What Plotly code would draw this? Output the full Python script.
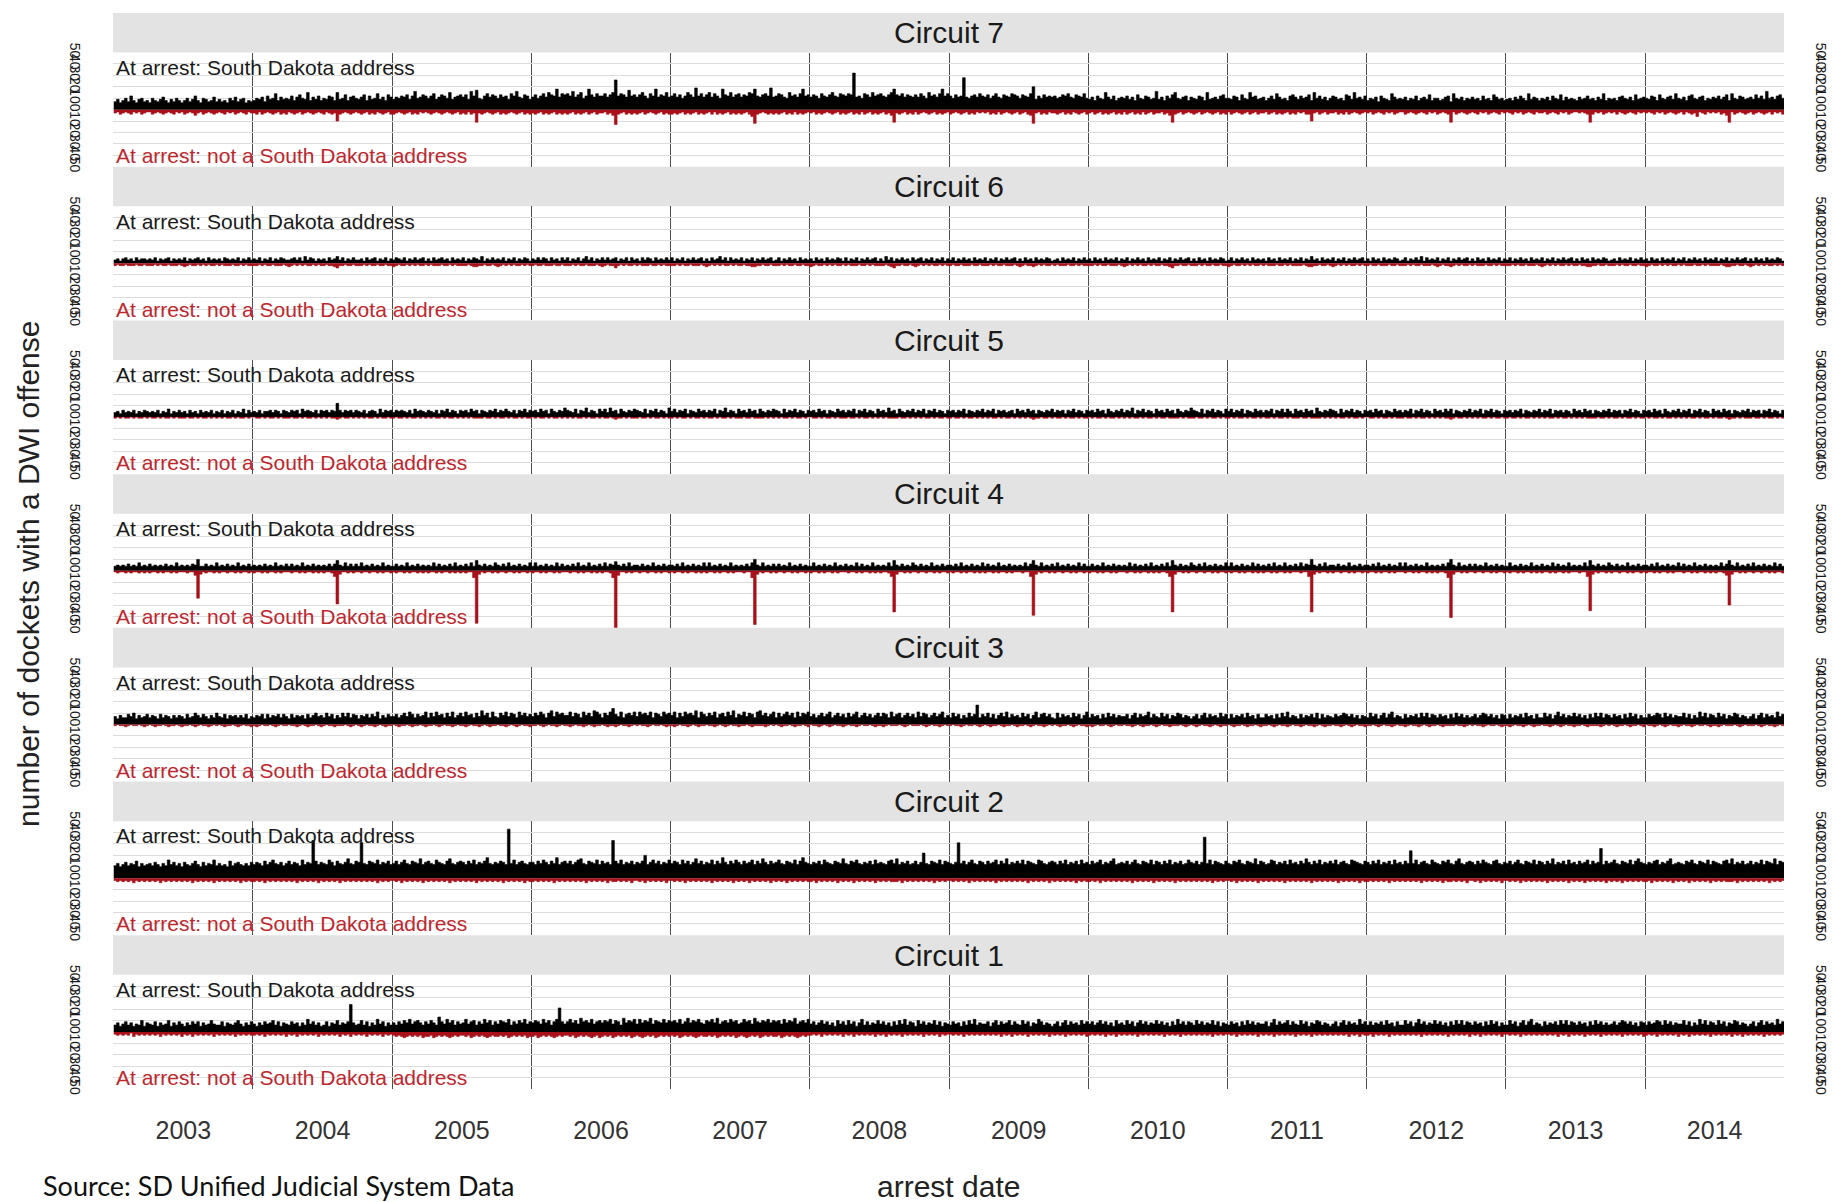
import datetime as dt
import plotly.graph_objects as go

# ---------------- data (weekly steps, 52 per year) ----------------
# each string = one year, 4 quarter-groups of 13 weekly values; chars decode via ALPHA index
ALPHA = "0123456789abcdefghijklmnopqrstuvwxyzABCDEFGHIJKLMNOPQRSTUVWXYZ"
YEARS = list(range(2003, 2015))
CIRCUITS = ["Circuit 7", "Circuit 6", "Circuit 5", "Circuit 4", "Circuit 3", "Circuit 2", "Circuit 1"]
Y_TICKS = [-50, -40, -30, -20, -10, 0, 10, 20, 30, 40, 50]
Y_TICK_TEXT = ["50", "40", "30", "20", "10", "0", "10", "20", "30", "40", "50"]
LABEL_SD = "At arrest: South Dakota address"
LABEL_OUT = "At arrest: not a South Dakota address"
SOURCE = "Source: SD Unified Judicial System Data"
X_TITLE = "arrest date"
Y_TITLE = "number of dockets with a DWI offense"

C7_SD = [
    "7968a7c869a78 6a879b8697a86 8a79c86a978b7 9786a8b79a687",
    "8a9b7c9ae8b9a 9c8bda9f8b9c8 a9cb8f9ad8bca 9bd8c9ae9b8db",
    "9bacbd9cgabdc ace9bdcaf9bcd bd9gcha9cebdc adbc9ecgbadc9",
    "bdacebfdcibed ecgbdfacidbec cebdfqcedbhcd bdfcaecibdcfb",
    "cebdacfdbjceb dfbecaidcfbde bdcfeicbdecjb cedbafcdbeicd",
    "bdcaecbdfcbed cedwbcaedbfcd ecbdfidcebdcb dbecafcdbeice",
    "cadbcsbacdbec bdacebadcbedc adcbek9cadbcb cabdcebadcbea",
    "9b8ca9fb9c8ab ac9b8da9cb9ag 9b8cadfa9bc8b a9cb8f9ab9cda",
    "a9cb8da9fbc9a b8ac9eb9a8cdb 9cabd8fac9b8a cb9a8dc9fab9c",
    "8a9b7ca98eb9a 9b8a9c8ab9d8a a89bc7ea9b8a9 b9a8c9a8db9a8",
    "9a8b9ca8e9ba8 a9b8ca9d8b9a9 8b9ac9a8b9e8a 9a8bca9b8d9ab",
    "a9cb8da9bc9ea 9b8cda9bc8a9b ac9bd8ea9cb9a b9dac9gab9cda",
]
C7_OUT = [
    "3243234232432 2432343234232 4323532432343 2342324323423",
    "3424323432434 2343243234323 42343a4323432 3432434234324",
    "4323432434232 3432343234324 34243b3432343 2434323432434",
    "3432434324343 4324343243243 32435d4324343 4324323432434",
    "4343243432434 3242434324343 43246c4323434 3432434243432",
    "3243432343243 4324342432434 32435b3432434 2432343243432",
    "4323432434232 3243424323432 43245c3243423 3432434234324",
    "3243243432434 2432434243243 32435b4324323 4324323432434",
    "2432343243243 3243243432434 23244a3243243 3243424323432",
    "3243234232432 2432343234232 43234b2432343 2342324323423",
    "2342324323423 3243234232432 23234b4232432 3242343234232",
    "3234232432343 2423436234232 32435b2432343 2432343242324",
]
C6_SD = [
    "3424534253443 4352434524343 5243453425343 4254343524353",
    "4352435243543 3453526354243 4253463524353 3425345243524",
    "3543524353452 4253453425343 5243543624353 4352435243542",
    "4353542534253 5243524635243 5353452435253 4253542534353",
    "5243524353452 4253463525343 5243524353452 3524353425343",
    "4253425343542 5243524353452 4263524353425 3452435243524",
    "3524353425343 5243524353452 4253425343542 3425343524353",
    "4253425343524 3524353425343 5243524353452 4253425343542",
    "3524353425343 4253425343524 3524363425343 5243524353452",
    "4253425343542 3524353625343 5243524353452 4253425343524",
    "3524353425343 5243524353452 4253425343542 3425343524353",
    "4253425343524 3524353425343 5243524353452 4253425343542",
]
C6_OUT = [
    "2122122212212 2212122122212 3212212121221 2122212212122",
    "2212122122212 3212121221212 2122342212212 2212122122122",
    "3212212121221 2122212212122 2212332212212 3212121221212",
    "2122122212212 2212122122212 3212242121221 2122212212122",
    "2212122122212 3212121221212 2122332212212 2212122122122",
    "3212212121221 2122212212122 2212342212212 3212121221212",
    "2122122212212 2212122122212 3212232121221 2122212212122",
    "2212122122212 3212121221212 2122342212212 2212122122122",
    "3212212121221 2122212212122 2212332212212 3212121221212",
    "2122122212212 2212122122212 3212232121221 2122212212122",
    "2212122122212 3212121221212 2122332212212 2212122122122",
    "3212212121221 2122212212122 2212332212212 3212121221212",
]
C5_SD = [
    "4536454635465 4546354735464 5364536454635 4635463547364",
    "5463556465365 4656375654636 56465c6465646 5463565374656",
    "4656546375654 6546365746536 5647563654657 4657546365746",
    "5647563754658 6547365846537 5748563754657 6547365746538",
    "5746573654756 4657365846537 5647563754657 6537465746536",
    "5647563654756 4657365746537 5648563754657 4657365746536",
    "5646573654657 4657365645637 5647563654657 4656365746536",
    "5647563754657 4658365746537 5647563754658 6547365746537",
    "5746573654756 4657365747537 5647563854657 6537465746536",
    "5647563654756 4657365746537 5647573654657 4657365746536",
    "5646573654657 4657365646537 5647563654657 4656365746536",
    "5647563754657 4657365746537 5647563654657 4656365746536",
]
C5_OUT = [
    "1010110101101 0110101101011 1011010110101 0101101011010",
    "0110101101011 1011010110101 0101121011010 1010110101101",
    "1011010110101 0101101011010 1010111101101 0110101101011",
    "0101101011010 1010110101101 0110121101011 1011010110101",
    "1010110101101 0110101101011 1011011110101 0101101011010",
    "0110101101011 1011010110101 0101111011010 1010110101101",
    "1011010110101 0101101011010 1010121101101 0110101101011",
    "0101101011010 1010110101101 0110111101011 1011010110101",
    "1010110101101 0110101101011 1011011110101 0101101011010",
    "0110101101011 1011010110101 0101121011010 1010110101101",
    "1011010110101 0101101011010 1010111101101 0110101101011",
    "0101101011010 1010110101101 0110121101011 1011010110101",
]
C4_SD = [
    "4545464547454 6454546454745 45465a4464547 4546454745464",
    "5454645474546 4645474546454 5464695474646 4745464547454",
    "4645474546454 5474645464745 4647495464547 5464745464547",
    "4745464547464 5464745474546 4746585464745 5464547454645",
    "5464745464547 4745464547454 54647a5474546 4645474546454",
    "4745464547454 6454746454745 4547495464547 5464547454645",
    "5464745464547 4645474546454 5474695474546 4745464547464",
    "4645474546454 5474645464745 4647495464547 5464745464547",
    "4745464547464 5464745474546 47465a5464745 5464547454645",
    "5464745464547 4745464547454 54647a5474546 4645474546454",
    "4745464547454 6454746454745 4547495464547 5464547454645",
    "5464745464547 4645474546454 5474695474546 4745464547464",
]
C4_OUT = [
    "1211212112121 2112121121211 12114o3121121 2112112121121",
    "2112121121211 1211212112121 21125t3112121 1211211212112",
    "1211212112121 2112121121212 12116K3121121 2112112121121",
    "2112121121211 1211212112121 21126O4112121 1211211212112",
    "1211212112121 2112121121211 12116L3121121 2112112121121",
    "2112121121211 1211212112121 21125A3112121 1211211212112",
    "1211212112121 2112121121211 12115D3121121 2112112121121",
    "2112121121211 1211212112121 21125A3112121 1211211212112",
    "1211212112121 2112121121211 12115A3121121 2112112121121",
    "2112121121211 1211212112121 21126F3112121 1211211212112",
    "1211212112121 2112121121211 12115z3121121 2112112121121",
    "2112121121211 1211212112121 21124u3112121 1211211212112",
]
C3_SD = [
    "7586697a58679 6875968758687 5967a8697586a 7695878686957",
    "6879596879697 5968785968a78 6a79586a7a698 5879697b58697",
    "7968a7b96978b 6a7b896a7b68a 7b896a7c8a6b7 6a8b7a96b8a79",
    "7a8b96ac7b9a8 8b7a96b8a7cb9 6a8be97b69a8b 7b9a8b6a97b9a",
    "8b6a7b9a8c6b9 7a8b69a7b8c69 8b7a96bc8a79b 6a79b8a6b7a9b",
    "7968a79b68a79 6a79b68a7968a 7a96b79a68a79 6b7a968a79b68",
    "6a79586a79h69 7a6958a7b6978 6a7958b69a796 5a69786a7958b",
    "6978596a79687 7958a6978b697 6a79587a96875 7958a69786a79",
    "5968796a78596 6978596a7b687 5968796a59687 6978a97968587",
    "6a7958a69b687 5968796a7a698 6978596a79686 7968a97968598",
    "5968796a78596 6a7958b79687a 7968596a7a698 6978596a79586",
    "6978a96a79687 7a69586b7a698 6a79587a96875 7958a69786b79",
]
C3_OUT = [
    "1011210110121 0121101211012 1101210112101 0121101210112",
    "1210110121011 0112101211012 1011211101210 1210112101211",
    "0121101211012 1101210112101 1210112101211 0112101210112",
    "1101210112101 1210112101211 0121121011210 1011210110121",
    "1210112101211 0112101210112 1101211112101 0121101211012",
    "0112101210112 1011210110121 1210111012101 1101210112101",
    "1011210110121 0121101211012 1101210112101 0121101210112",
    "1210110121011 0112101211012 1011211101210 1210112101211",
    "0121101211012 1101210112101 1210112101211 0112101210112",
    "1101210112101 1210112101211 0121111011210 1011210110121",
    "1210112101211 0112101210112 1101211112101 0121101211012",
    "0112101210112 1011210110121 1210111012101 1101210112101",
]
C2_SD = [
    "bdacebdcfadbc dbecadbgcebda ecbdfcaebdcgb dbcafbdecbdbe",
    "cedbfcegdcebd fcedbgcedxfce dcgebfdcehdcf evdcfedgcedfc",
    "dfcegdcfedhce fdcgedcfhdcef ecfdgcedfidce dfecHdgcefdce",
    "ecfdgecfdicef dfceghdcfedgc fdecxfdgcedfc edfkcegdfcedg",
    "dfecgdfcehdfc edgcfdiecfdge cfdegcfdhecfd egdcfedgcfied",
    "cedfcgedcfedh dcfegdcedfcgd edcfgdhcedfcd fcemdcfedgcfe",
    "dcevdfcegdcfe cfdegcfdhcedf dgcfedcgfdcef ecfdgcedfcgde",
    "cfdegcedfhcde dfcegdcfedgcf ecfdgcedfcdge dfceAdgcfedcf",
    "dcfegdcfedhcf ecdgfcedfcgde cfdhecfdgcedf dgcefdcgfedcf",
    "ecfdgcedfcgde cfdodgcefdcge dcfegdcfhdcef ecfdgedcfgdce",
    "dfcegdcfedgcf ecfdhcedfcgde cfdegcfdeqcfd egdcfedgcfhed",
    "cedfgcedfhcde dcfegdcfedgcf edcfgdhcedfcd fcedgcfedhcfe",
]
C2_OUT = [
    "2323232423232 3232423232323 2324232323242 3232323242323",
    "3232423232323 2324232323242 3232324232323 2323232423232",
    "2324232323242 3232323242323 2323242323232 3242323232423",
    "3232323242323 2323232423232 3242332323242 2324232323242",
    "2323242323232 3242323232423 2324232323242 3232423232323",
    "3242323232423 2324232323242 3232333242323 2323232423232",
    "2323232423232 3232423232323 2324232323242 3232323242323",
    "3232423232323 2324232323242 3232324232323 2323232423232",
    "2324232323242 3232323242323 2323242323232 3242323232423",
    "3232323242323 2323232423232 3242332323242 2324232323242",
    "2323242323232 3242323232423 2324232323242 3232423232323",
    "3242323232423 2324232323242 3232333242323 2323232423232",
]
C1_SD = [
    "6857968576a58 7695867a58697 5869795867a76 6958768a75869",
    "7586978a69587 6978586b79685 69587a6879o86 7a69586b79586",
    "8697a8b79a869 7a86d97b8a697 8b79a697b8a69 7a98b697a8b79",
    "8a97b8a69bl97 9b8a7c9a8b79a 8a9b7a96c8a9b 7b8a9c7a98b8a",
    "9a8b79c8a9b87 a9b8c79a8b9a7 8b9a7c98a9b8a 9a7b8a9c79a8b",
    "7968a79685a79 6a7958b69687a 7968596a7b698 5a79687a69587",
    "6978596a7b687 7958a6978a697 6a79587b96875 7958a69786a79",
    "7968a79685a78 6a7958a79687a 7968596b79698 6a79687a69587",
    "6978596a79687 7958b6978a697 6a79587a96875 7958a69786b79",
    "6968796a78596 6a7958b79687a 7968596a7a698 6978596a79586",
    "6a7958a69b687 5968796a7a698 6978596a79686 7968a97968598",
    "6978a96a79687 7a69586b7a698 6a79587a96875 7958a69786b79",
]
C1_OUT = [
    "2323231423232 3232423232324 2324232323242 3232324232323",
    "3232423232324 2324232323242 3232324232423 2324232324232",
    "3434543434354 4354343454343 3435434345434 4343543434354",
    "4354343454343 3435434345435 4343543434354 3454343543434",
    "3435434345434 4343543434354 3454343543434 4354343454343",
    "3232423232324 2324232323242 3242323242323 2324232324232",
    "2323242323232 3232324232423 2324232323242 3232423232324",
    "3232324232423 2323242323232 3242323242323 2323232423232",
    "2324232323242 3232423232324 2323242323232 3232324232423",
    "3242323242323 2323232423232 3232423232324 2324232323242",
    "2323242323232 3232324232423 2324232324232 3232423232324",
    "3232423232324 2324232323242 3232324232423 2323242323232",
]

SD_SERIES = [C7_SD, C6_SD, C5_SD, C4_SD, C3_SD, C2_SD, C1_SD]
OUT_SERIES = [C7_OUT, C6_OUT, C5_OUT, C4_OUT, C3_OUT, C2_OUT, C1_OUT]

# ---------------- styling ----------------
FONT = "Liberation Sans, Arial, Helvetica, sans-serif"
BLACK = "#000000"
RED = "#a8101a"
RED_TEXT = "#c0262d"
STRIP = "#e3e3e3"
HGRID = "#dcdcdc"
VGRID = "#4d4d4d"
PANEL_FRAC = 114.5 / 154.2
X_RANGE = ["2002-12-30", "2014-12-31 12:00"]
M_TOP, M_BOTTOM = 3, 113
PLOT_H = 1202 - M_TOP - M_BOTTOM


def decode(year_strings):
    xs, ys = [], []
    for year, s in zip(YEARS, year_strings):
        s = s.replace(" ", "")
        start = dt.datetime(year, 1, 1)
        ndays = (dt.datetime(year + 1, 1, 1) - start).days
        for k, ch in enumerate(s):
            xs.append(start + dt.timedelta(days=ndays * k / len(s)))
            ys.append(ALPHA.index(ch))
    xs.append(dt.datetime(YEARS[-1] + 1, 1, 1))
    ys.append(ys[-1])
    return xs, ys


def py(pixel_y):
    """paper y for a pixel row of the page"""
    return (1202 - M_BOTTOM - pixel_y) / PLOT_H


fig = go.Figure()
layout = dict(
    width=1832, height=1202, autosize=False,
    margin=dict(l=113, r=47, t=M_TOP, b=M_BOTTOM, pad=0),
    paper_bgcolor="white", plot_bgcolor="white",
    showlegend=False, font=dict(family=FONT, color="#222222"),
)
shapes, annotations = [], []

for i, (name, sd, out) in enumerate(zip(CIRCUITS, SD_SERIES, OUT_SERIES)):
    sfx = "" if i == 0 else str(i + 1)
    xa, ya = "x" + sfx, "y" + sfx
    facet_bottom = 1 - (i + 1) / 7
    facet_top = 1 - i / 7
    panel_top = facet_bottom + PANEL_FRAC / 7

    x1, y1 = decode(sd)
    fig.add_trace(go.Scatter(
        x=x1, y=y1, xaxis=xa, yaxis=ya, mode="lines",
        line=dict(color=BLACK, width=0.6, shape="hv"),
        fill="tozeroy", fillcolor=BLACK, hoverinfo="skip"))
    x2, y2 = decode(out)
    fig.add_trace(go.Scatter(
        x=x2, y=[-v for v in y2], xaxis=xa, yaxis=ya, mode="lines",
        line=dict(color=RED, width=0.6, shape="hv"),
        fill="tozeroy", fillcolor=RED, hoverinfo="skip"))
    # invisible trace for the right-hand mirrored axis
    ra = "y" + str(8 + i)
    fig.add_trace(go.Scatter(x=[x1[0]], y=[0], xaxis=xa, yaxis=ra, mode="markers",
                             marker=dict(opacity=0), hoverinfo="skip"))

    layout["xaxis" + sfx] = dict(
        domain=[0, 1], anchor=ya, type="date", range=X_RANGE,
        tick0="2003-01-01", dtick="M12", showgrid=True, gridcolor=VGRID, gridwidth=1.3,
        zeroline=False, showline=False, ticks="",
        showticklabels=(i == 6), ticklabelmode="period", tickformat="%Y",
        tickfont=dict(family=FONT, size=25, color="#333333"), ticklabelstandoff=24,
    )
    layout["yaxis" + sfx] = dict(
        domain=[facet_bottom, panel_top], anchor=xa, range=[-50, 50],
        tickmode="array", tickvals=Y_TICKS, ticktext=Y_TICK_TEXT, tickangle=90,
        tickfont=dict(family=FONT, size=14, color="#1a1a1a"),
        showgrid=True, gridcolor=HGRID, gridwidth=1, zeroline=False, showline=False,
        ticks="", ticklabelstandoff=28,
    )
    layout["yaxis" + str(8 + i)] = dict(
        domain=[facet_bottom, panel_top], anchor=xa, overlaying=ya, side="right",
        range=[-50, 50], tickmode="array", tickvals=Y_TICKS, ticktext=Y_TICK_TEXT,
        tickangle=90, tickfont=dict(family=FONT, size=14, color="#1a1a1a"),
        showgrid=False, zeroline=False, showline=False, ticks="", ticklabelstandoff=28,
    )

    shapes.append(dict(type="rect", xref="paper", yref="paper", x0=0, x1=1,
                       y0=panel_top, y1=facet_top, fillcolor=STRIP,
                       line=dict(width=0), layer="below"))
    annotations.append(dict(xref="paper", yref="paper", x=0.5, y=(panel_top + facet_top) / 2,
                            text=name, showarrow=False, xanchor="center", yanchor="middle",
                            font=dict(family=FONT, size=30, color="#1a1a1a")))
    annotations.append(dict(xref=xa, yref=ya, x="2003-01-01", y=37, text=LABEL_SD,
                            showarrow=False, xanchor="left", yanchor="middle",
                            font=dict(family=FONT, size=21, color="#1a1a1a")))
    annotations.append(dict(xref=xa, yref=ya, x="2003-01-01", y=-40, text=LABEL_OUT,
                            showarrow=False, xanchor="left", yanchor="middle",
                            font=dict(family=FONT, size=21, color=RED_TEXT)))

annotations.append(dict(xref="paper", yref="paper", x=-0.0502, y=py(569), text=Y_TITLE,
                        textangle=-90, showarrow=False, xanchor="center", yanchor="middle",
                        font=dict(family=FONT, size=30, color="#222222")))
annotations.append(dict(xref="paper", yref="paper", x=0.5, y=py(1187), text=X_TITLE,
                        showarrow=False, xanchor="center", yanchor="middle",
                        font=dict(family=FONT, size=30, color="#222222")))
annotations.append(dict(xref="paper", yref="paper", x=-0.043, y=py(1186), text=SOURCE,
                        showarrow=False, xanchor="left", yanchor="middle",
                        font=dict(family="Lato, Carlito, Open Sans, sans-serif", size=27,
                                  color="#111111")))

layout["shapes"] = shapes
layout["annotations"] = annotations
fig.update_layout(**layout)
fig.write_html("out.html")
